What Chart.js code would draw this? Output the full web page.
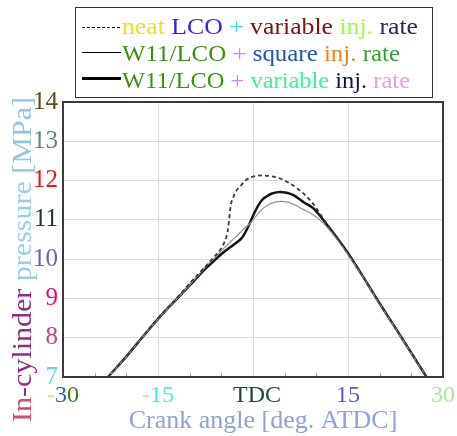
<!DOCTYPE html>
<html>
<head>
<meta charset="utf-8">
<script src="https://cdn.jsdelivr.net/npm/chart.js@4/dist/chart.umd.min.js"></script>
<style>
  html, body { margin: 0; padding: 0; background: #fff; }
  #wrap { width: 457px; height: 436px; }
</style>
</head>
<body>
<div id="wrap"><canvas id="pressChart" width="457" height="436"></canvas></div>
<script>
// crank angle [deg ATDC] and in-cylinder pressure [MPa]
const angleNeat = [-22.9, -20, -17, -15, -12, -10, -8.4, -7, -6, -5.2, -4.6, -4.2, -3.9, -3.5, -3.1, -2.6, -2, -1.2, -0.4, 0.5, 1.5, 2.5, 3.5, 4.5, 5.8, 7, 8.5, 10, 11.1, 12.7, 15, 18, 20, 22.2, 25, 27.4];
const pressNeat = [7.0, 7.53, 8.11, 8.5, 9.02, 9.38, 9.66, 9.9, 10.08, 10.23, 10.4, 10.57, 10.82, 11.38, 11.58, 11.75, 11.86, 12.0, 12.08, 12.12, 12.13, 12.12, 12.09, 12.04, 11.93, 11.8, 11.59, 11.3, 11.03, 10.68, 10.15, 9.4, 8.88, 8.33, 7.62, 7.0];

const angleSquare = [-22.9, -20, -17, -15, -12, -10, -8.9, -7.5, -6, -4.7, -3.5, -2.5, -1.5, -0.5, 0.5, 1.5, 2.5, 3.5, 4.5, 5.5, 6.5, 7.5, 8.5, 9.5, 11, 12.7, 15, 18, 20, 22.2, 25, 27.4];
const pressSquare = [7.0, 7.52, 8.1, 8.48, 8.99, 9.34, 9.54, 9.8, 10.04, 10.26, 10.45, 10.6, 10.76, 10.9, 11.1, 11.28, 11.39, 11.45, 11.47, 11.45, 11.39, 11.3, 11.22, 11.13, 10.93, 10.62, 10.12, 9.38, 8.86, 8.31, 7.6, 7.0];

const angleVariable = [-22.9, -20, -17, -15, -12, -10, -8.9, -7.5, -6, -4.7, -3.6, -2.8, -2, -1.5, -0.9, -0.2, 0.5, 1.4, 2.2, 3, 4.3, 5.3, 6.4, 7.3, 8, 9.5, 10.6, 12.7, 15, 18, 20, 22.2, 25, 27.4];
const pressVariable = [7.0, 7.52, 8.1, 8.48, 8.99, 9.33, 9.52, 9.76, 9.98, 10.17, 10.3, 10.4, 10.5, 10.6, 10.78, 11.03, 11.27, 11.5, 11.6, 11.67, 11.71, 11.69, 11.63, 11.53, 11.45, 11.3, 11.1, 10.66, 10.15, 9.39, 8.87, 8.32, 7.61, 7.0];

const xTickValues = [-30, -15, 0, 15, 30];
const xTickParts = [
  [['-', '#f6c6a6'], ['3', '#2462b2'], ['0', '#3f7a12']],
  [['-', '#f6c6a6'], ['15', '#3ef0f0']],
  [['TDC', '#204a32']],
  [['15', '#5a5ae0']],
  [['30', '#a4e8a4']]
];
const yTickColors = { 7: '#62d2f2', 8: '#c8428a', 9: '#e0106e', 10: '#6466a6', 11: '#1f3434', 12: '#e8121c', 13: '#5a8888', 14: '#5e4c1e' };

const yTitleParts = [['In', '#d84a6a'], ['-cylinder', '#952a85'], [' pressure', '#9acfe0'], [' [MPa]', '#92c6dc']];
const xTitle = 'Crank angle [deg. ATDC]';

const legendRows = [
  { style: 'dash', parts: [['neat', '#eee020'], [' LCO', '#3a1fe0'], [' + ', '#44d2e2'], ['variable', '#7a1212'], [' inj.', '#a2fb44'], [' rate', '#2c2452']] },
  { style: 'thin', parts: [['W11/LCO', '#3c9012'], [' + ', '#c292e2'], ['square', '#2252c2'], [' inj.', '#f08212'], [' rate', '#32a232']] },
  { style: 'thick', parts: [['W11/LCO', '#3c9012'], [' + ', '#c292e2'], ['variable', '#44f094'], [' inj.', '#121242'], [' rate', '#e2a2e2']] }
];

const SERIF = '"Liberation Serif"';

function toPoints(xs, ys) {
  return xs.map((x, i) => ({ x: x, y: ys[i] }));
}

function drawParts(ctx, parts, x, y, targetWidth) {
  const widths = parts.map(p => ctx.measureText(p[0]).width);
  const total = widths.reduce((a, b) => a + b, 0);
  const sx = targetWidth ? targetWidth / total : 1;
  ctx.save();
  ctx.translate(x, y);
  ctx.scale(sx, 1);
  let cx = 0;
  parts.forEach((p, i) => {
    ctx.fillStyle = p[1];
    ctx.fillText(p[0], cx, 0);
    cx += widths[i];
  });
  ctx.restore();
  return total * sx;
}

const decorPlugin = {
  id: 'decor',
  afterDatasetsDraw(chart) {
    const ctx = chart.ctx;
    const area = chart.chartArea;
    const xScale = chart.scales.x;

    // minor ticks along the bottom
    ctx.save();
    ctx.strokeStyle = '#a0a0a0';
    ctx.lineWidth = 1;
    for (let v = -25; v <= 25; v += 5) {
      if (v % 15 === 0) continue;
      const px = Math.round(xScale.getPixelForValue(v)) + 0.5;
      ctx.beginPath();
      ctx.moveTo(px, area.bottom - 1);
      ctx.lineTo(px, area.bottom - 4);
      ctx.stroke();
    }
    // frame
    ctx.strokeStyle = '#3a3a3a';
    ctx.lineWidth = 2;
    ctx.strokeRect(area.left, area.top, area.right - area.left, area.bottom - area.top);
    ctx.restore();
  },
  afterDraw(chart) {
    const ctx = chart.ctx;
    const area = chart.chartArea;
    const xScale = chart.scales.x;
    ctx.save();
    ctx.textBaseline = 'alphabetic';
    ctx.textAlign = 'left';

    // x tick labels
    ctx.font = '24px ' + SERIF;
    xTickValues.forEach((v, i) => {
      const parts = xTickParts[i];
      const w = parts.reduce((s, p) => s + ctx.measureText(p[0]).width, 0);
      const px = xScale.getPixelForValue(v) + (v === 0 ? 4 : 0);
      drawParts(ctx, parts, px - w / 2, area.bottom + 25, null);
    });

    // x title
    ctx.font = '26px ' + SERIF;
    ctx.fillStyle = '#8ea2d8';
    ctx.textAlign = 'center';
    ctx.fillText(xTitle, 263, 428);
    ctx.textAlign = 'left';

    // y title
    ctx.font = '27px ' + SERIF;
    ctx.save();
    ctx.translate(31, 260);
    ctx.rotate(-Math.PI / 2);
    drawParts(ctx, yTitleParts, -162, 0, 325);
    ctx.restore();

    // legend box
    ctx.fillStyle = '#fff';
    ctx.fillRect(75.5, 7.5, 357, 90);
    ctx.strokeStyle = '#333';
    ctx.lineWidth = 1;
    ctx.strokeRect(75.5, 7.5, 357, 90);

    const rowBase = [34, 61, 88];
    const rowLine = [27, 52, 78];
    const rowWidth = [296, 278, 288];
    ctx.font = '23px ' + SERIF;
    legendRows.forEach((row, i) => {
      ctx.save();
      ctx.strokeStyle = '#000';
      if (row.style === 'dash') {
        ctx.lineWidth = 1;
        ctx.setLineDash([3, 2]);
      } else if (row.style === 'thin') {
        ctx.lineWidth = 1;
      } else {
        ctx.lineWidth = 3;
      }
      ctx.beginPath();
      ctx.moveTo(82, rowLine[i] + 0.5);
      ctx.lineTo(121, rowLine[i] + 0.5);
      ctx.stroke();
      ctx.restore();
      drawParts(ctx, row.parts, 122, rowBase[i], rowWidth[i]);
    });
    ctx.restore();
  }
};

new Chart(document.getElementById('pressChart'), {
  type: 'line',
  data: {
    datasets: [
      {
        label: 'neat LCO + variable inj. rate',
        data: toPoints(angleNeat, pressNeat),
        borderColor: '#3c3c3c',
        borderWidth: 1.8,
        borderDash: [4, 3],
        pointRadius: 0,
        cubicInterpolationMode: 'monotone',
        fill: false
      },
      {
        label: 'W11/LCO + square inj. rate',
        data: toPoints(angleSquare, pressSquare),
        borderColor: '#8494aa',
        borderWidth: 1.2,
        pointRadius: 0,
        cubicInterpolationMode: 'monotone',
        fill: false
      },
      {
        label: 'W11/LCO + variable inj. rate',
        data: toPoints(angleVariable, pressVariable),
        borderColor: '#151515',
        borderWidth: 2.5,
        pointRadius: 0,
        cubicInterpolationMode: 'monotone',
        fill: false
      }
    ]
  },
  options: {
    responsive: false,
    animation: false,
    events: [],
    layout: {
      padding: { top: 102, right: 14, left: 0, bottom: 0 }
    },
    plugins: {
      legend: { display: false },
      tooltip: { enabled: false }
    },
    scales: {
      x: {
        type: 'linear',
        min: -30,
        max: 30,
        ticks: { display: false, stepSize: 5 },
        grid: {
          drawTicks: false,
          color: (c) => (c.tick && c.tick.value % 15 === 0 ? '#dcdcdc' : 'rgba(0,0,0,0)'),
          lineWidth: 1
        },
        border: { display: false },
        afterFit: (scale) => { scale.height = 59; }
      },
      y: {
        min: 7,
        max: 14,
        ticks: {
          stepSize: 1,
          padding: 5,
          font: { family: 'Liberation Serif', size: 25 },
          color: (c) => yTickColors[c.tick.value] || '#333'
        },
        grid: { drawTicks: false, color: '#dcdcdc', lineWidth: 1 },
        border: { display: false },
        afterFit: (scale) => { scale.width = 63; }
      }
    }
  },
  plugins: [decorPlugin]
});
</script>
</body>
</html>
